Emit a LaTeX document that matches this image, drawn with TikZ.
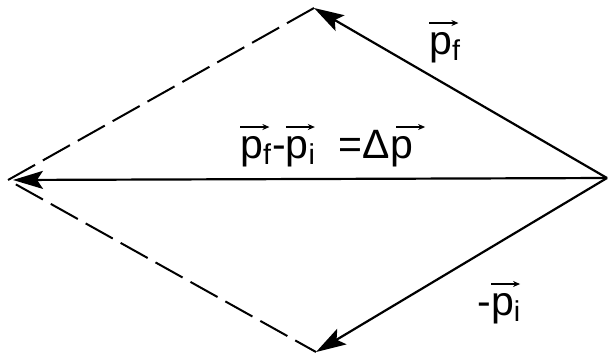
\documentclass[tikz,border=0pt]{standalone}
\usepackage{amsmath}
\usepackage{fontspec}
\setmainfont{Liberation Sans}
\usetikzlibrary{arrows.meta}

% p with a thin arrow over it, and a subscript
\newcommand{\vp}[2][0]{\leavevmode\rlap{\tikz[overlay,x=1pt,y=1pt,line width=0.8pt]
    \draw[-{Stealth[length=3.5pt,width=3pt]}] (#1,15.5) -- ++(14.5,0);}p$_{\text{#2}}$}

\begin{document}
\begin{tikzpicture}[x=0.5pt,y=-0.5pt,line width=1.1pt,
    vec/.style={-{Stealth[length=15pt,width=9pt,inset=3pt]}},
    aux/.style={line width=1pt,dash pattern=on 15.5pt off 4.5pt},
    lbl/.style={font=\fontsize{20.5}{24}\selectfont,inner sep=0pt,anchor=base west}]
  \useasboundingbox (0,0) rectangle (609,361);
  % corners of the parallelogram
  \coordinate (R) at (607,178);
  \coordinate (T) at (314,8);
  \coordinate (B) at (316,352);
  \coordinate (L) at (8,180);
  % momentum vectors
  \draw[vec] (R) -- (T);
  \draw[vec] (R) -- (B);
  \draw[vec,shorten >=2.5pt] (R) -- (L);
  % completing sides
  \draw[aux] (T) -- (L) -- (B);
  % labels
  \node[lbl] (pf) at (429,54) {\vp{f}};
  \node[lbl] (sum) at (240,158) {\vp{f}-\vp{i}\ \ =Δ\vp[3]{}};
  \node[lbl] (pi) at (477,315) {-\vp{i}};
\end{tikzpicture}
\end{document}
